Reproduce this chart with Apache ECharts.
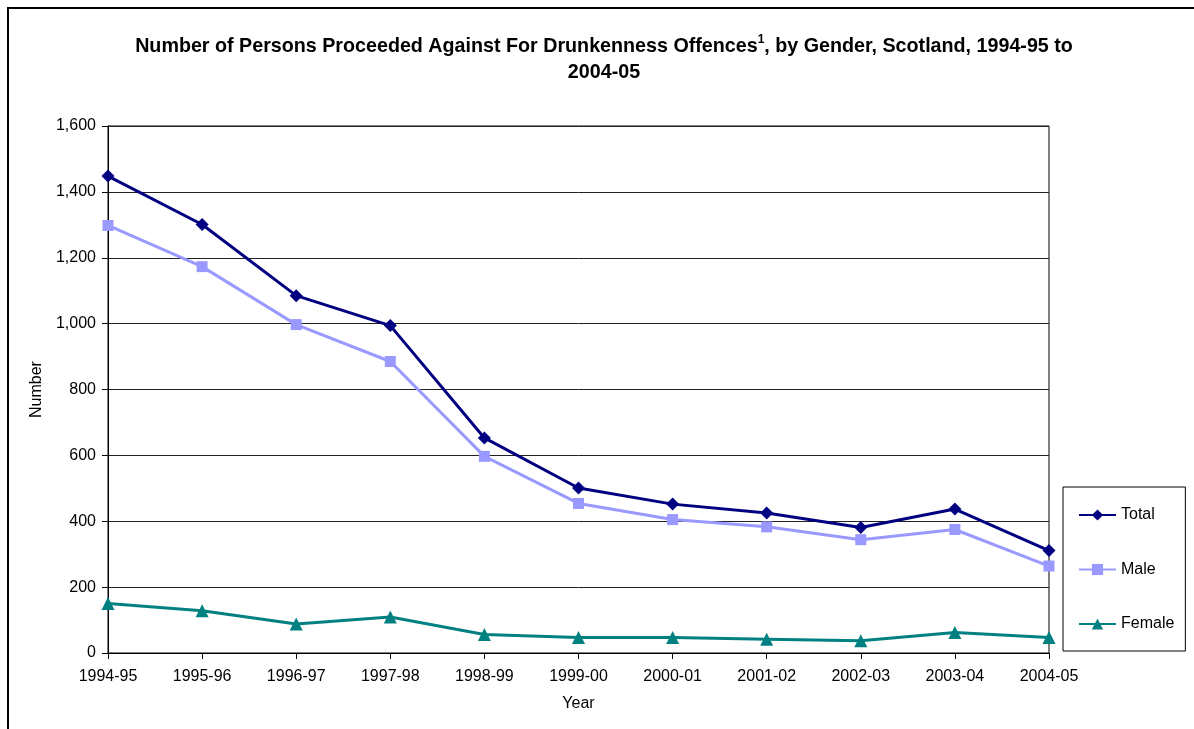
<!DOCTYPE html>
<html>
<head>
<meta charset="utf-8">
<script src="https://cdn.jsdelivr.net/npm/echarts@6/dist/echarts.min.js"></script>
<style>html,body{margin:0;padding:0;background:#fff;}#c{width:1194px;height:729px;}</style>
</head>
<body>
<div id="c"></div>
<script>
const categories = ['1994-95','1995-96','1996-97','1997-98','1998-99','1999-00','2000-01','2001-02','2002-03','2003-04','2004-05'];
const totalValues = [1448, 1301, 1085, 994, 653, 501, 452, 425, 381, 437, 311];
const maleValues = [1298, 1173, 997, 885, 597, 454, 405, 383, 344, 375, 264];
const femaleValues = [150, 128, 88, 109, 56, 47, 47, 42, 37, 62, 47];
const seriesNames = ['Total', 'Male', 'Female'];

const FONT = '"Liberation Sans", Arial, sans-serif';
const chart = echarts.init(document.getElementById('c'), null, {renderer: 'canvas'});
chart.setOption({
  animation: false,
  backgroundColor: '#fff',
  textStyle: {fontFamily: FONT},
  title: {
    text: '{a|Number of Persons Proceeded Against For Drunkenness Offences}{sup|1}{a|, by Gender, Scotland, 1994-95 to}\n{a|2004-05}',
    left: 599,
    top: 29,
    textAlign: 'center',
    textStyle: {
      rich: {
        a: {fontFamily: FONT, fontSize: 19.7, fontWeight: 'bold', color: '#000', lineHeight: 26, align: 'center'},
        sup: {fontFamily: FONT, fontSize: 12, fontWeight: 'bold', color: '#000', lineHeight: 26, verticalAlign: 'top', align: 'center'}
      }
    }
  },
  graphic: [{
    type: 'rect',
    shape: {x: 8, y: 8, width: 1400, height: 900},
    style: {fill: 'none', stroke: '#000', lineWidth: 2},
    silent: true
  }],
  grid: {left: 108, right: 145, top: 126, bottom: 76, show: true, borderColor: '#000', borderWidth: 1, backgroundColor: 'transparent'},
  legend: {
    orient: 'vertical',
    left: 1063,
    top: 487,
    data: seriesNames,
    itemWidth: 37,
    itemHeight: 14,
    itemGap: 38.5,
    padding: [20, 11, 19, 15],
    borderColor: '#000',
    borderWidth: 1,
    textStyle: {fontFamily: FONT, fontSize: 16, color: '#000'}
  },
  xAxis: {
    type: 'category',
    data: categories,
    boundaryGap: false,
    name: 'Year',
    nameLocation: 'middle',
    nameGap: 43,
    nameTextStyle: {fontFamily: FONT, fontSize: 16, color: '#000'},
    axisLine: {lineStyle: {color: '#000', width: 1}},
    axisTick: {show: true, length: 6, lineStyle: {color: '#000'}, alignWithLabel: true},
    axisLabel: {fontFamily: FONT, fontSize: 16, color: '#000', margin: 16, interval: 0},
    splitLine: {show: false}
  },
  yAxis: {
    type: 'value',
    min: 0,
    max: 1600,
    interval: 200,
    name: 'Number',
    nameLocation: 'middle',
    nameGap: 62,
    nameRotate: 90,
    nameTextStyle: {fontFamily: FONT, fontSize: 16, color: '#000'},
    axisLine: {show: true, lineStyle: {color: '#000', width: 1}},
    axisTick: {show: true, length: 6, lineStyle: {color: '#000'}},
    axisLabel: {fontFamily: FONT, fontSize: 16, color: '#000', margin: 12,
      formatter: v => v.toLocaleString('en-US')},
    splitLine: {show: true, lineStyle: {color: '#222', width: 1}}
  },
  series: [
    {name: 'Total', type: 'line', data: totalValues, symbol: 'diamond', symbolSize: 13,
     lineStyle: {color: '#000080', width: 3}, itemStyle: {color: '#000080'}, z: 4},
    {name: 'Male', type: 'line', data: maleValues, symbol: 'rect', symbolSize: 11,
     lineStyle: {color: '#9999FF', width: 3}, itemStyle: {color: '#9999FF'}, z: 3},
    {name: 'Female', type: 'line', data: femaleValues, symbol: 'triangle', symbolSize: 13,
     lineStyle: {color: '#008080', width: 3}, itemStyle: {color: '#008080'}, z: 2}
  ]
});
</script>
</body>
</html>
